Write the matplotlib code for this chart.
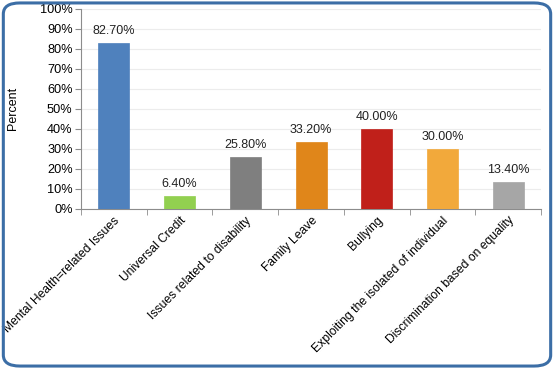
import matplotlib
matplotlib.use("Agg")
import matplotlib.pyplot as plt
from matplotlib.patches import FancyBboxPatch
from matplotlib.ticker import FixedLocator, PercentFormatter

categories = ["Mental Health=related Issues", "Universal Credit", "Issues related to disability",
              "Family Leave", "Bullying", "Exploiting the isolated of individual",
              "Discrimination based on equality"]
values = [82.70, 6.40, 25.80, 33.20, 40.00, 30.00, 13.40]
colors = ["#4f81bd", "#92d050", "#7f7f7f", "#e0861a", "#c0201a", "#f2a93b", "#a6a6a6"]

plt.rcParams['font.family'] = ['Liberation Sans', 'DejaVu Sans']

fig = plt.figure(figsize=(5.54, 3.69), dpi=100)
ax = fig.add_axes([0.146, 0.434, 0.831, 0.542])

x = list(range(len(categories)))
bars = ax.bar(x, values, width=0.47, color=colors, edgecolor=colors, linewidth=0.5, zorder=3)
for xi, v in zip(x, values):
    ax.text(xi, v + 3, f"{v:.2f}%", ha="center", va="bottom", fontsize=9, color="#222222")

ax.set_xlim(-0.5, len(categories) - 0.5)
ax.set_ylim(0, 100)
ax.set_yticks(range(0, 101, 10))
ax.yaxis.set_major_formatter(PercentFormatter(decimals=0))
ax.grid(axis="y", color="#ececec", linewidth=0.8, zorder=0)
ax.set_xticks(x)
ax.set_xticklabels(categories, rotation=45, ha="right", rotation_mode="anchor", fontsize=8.7)
ax.xaxis.set_minor_locator(FixedLocator([i - 0.5 for i in range(len(categories) + 1)]))
ax.tick_params(axis="x", which="major", length=0, pad=4)
ax.tick_params(axis="x", which="minor", length=4, color="#8c8c8c", direction="out")
ax.tick_params(axis="y", length=4, color="#8c8c8c", labelsize=9.2, pad=2)
for s in ["top", "right"]:
    ax.spines[s].set_visible(False)
for s in ["left", "bottom"]:
    ax.spines[s].set_color("#8c8c8c")
ax.set_ylabel("Percent", fontsize=9, labelpad=15)

border = FancyBboxPatch((0.006, 0.008), 0.988, 0.984, boxstyle="round,pad=0,rounding_size=0.03",
                        transform=fig.transFigure, fill=False, edgecolor="#3c6ea6", linewidth=2.2)
fig.patches.append(border)

fig.savefig("out.png", dpi=100)
